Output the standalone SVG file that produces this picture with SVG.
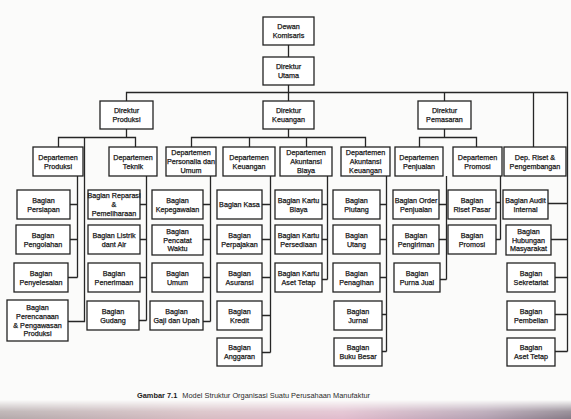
<svg xmlns="http://www.w3.org/2000/svg" width="571" height="419" viewBox="0 0 571 419">
  <defs>
    <style>
      .box { fill: #ffffff; stroke: #222222; stroke-width: 1.3; }
      .lbl { font-family: "Liberation Sans", Arial, sans-serif; font-size: 7.2px; text-anchor: middle; fill: #181818; stroke: #181818; stroke-width: 0.25; }
      .wire { fill: none; stroke: #262626; stroke-width: 1.3; }
      .cap { font-family: "Liberation Sans", Arial, sans-serif; font-size: 7.4px; fill: #2a2a2a; }
    </style>
    <linearGradient id="bandColor" x1="0" y1="0" x2="1" y2="0">
      <stop offset="0" stop-color="#b3a9aa"/>
      <stop offset="0.35" stop-color="#d6bcc2"/>
      <stop offset="0.6" stop-color="#e0bccd"/>
      <stop offset="0.85" stop-color="#b29fb0"/>
      <stop offset="1" stop-color="#857a86"/>
    </linearGradient>
    <linearGradient id="bandFade" x1="0" y1="0" x2="0" y2="1">
      <stop offset="0" stop-color="#000"/>
      <stop offset="0.6" stop-color="#ccc"/>
      <stop offset="1" stop-color="#fff"/>
    </linearGradient>
    <mask id="bandMask">
      <rect x="0" y="400" width="571" height="19" fill="url(#bandFade)"/>
    </mask>
  </defs>

  <!-- page -->
  <rect x="0" y="0" width="571" height="419" fill="#fbfbfa"/>
  <rect x="0" y="400" width="571" height="19" fill="url(#bandColor)" mask="url(#bandMask)"/>

  <!-- connectors -->
  <g id="connectors" class="wire">
    <!-- board / president -->
    <path d="M288.5 45 V57 M288.5 85 V101"/>
    <path d="M126.5 101 V92.5 H567.5 V351.5"/>
    <path d="M444.5 92.5 V101 M533.5 92.5 V147"/>
    <!-- production director -->
    <path d="M126.5 129 V137.5 M58.5 147 V137.5 H135.5 V147"/>
    <path d="M84.5 137.5 V321.5 H68"/>
    <!-- finance director -->
    <path d="M288.5 129 V137.5 M191.5 147 V137.5 H365.5 V147 M249.5 137.5 V147 M306.5 137.5 V147"/>
    <!-- marketing director -->
    <path d="M444.5 129 V137.5 M419.5 147 V137.5 H476.5 V147"/>
    <!-- production dept -->
    <path d="M77.5 176 V277.5 M70 204.5 H77.5 M70 239.5 H77.5 M68 277.5 H77.5"/>
    <!-- engineering dept -->
    <path d="M146.5 176 V320.5 M140 204.5 H146.5 M140 239.5 H146.5 M140 277.5 H146.5 M139 320.5 H146.5"/>
    <!-- personnel dept -->
    <path d="M210.5 176 V321.5 M203 204.5 H210.5 M203 239.5 H210.5 M203 277.5 H210.5 M203 321.5 H210.5"/>
    <!-- finance dept -->
    <path d="M270.5 176 V352.5 M262 204.5 H270.5 M262 239.5 H270.5 M262 277.5 H270.5 M262 315.5 H270.5 M262 352.5 H270.5"/>
    <!-- cost accounting dept -->
    <path d="M327.5 176 V279.5 M322 204.5 H327.5 M322 239.5 H327.5 M322 279.5 H327.5"/>
    <!-- financial accounting dept -->
    <path d="M386.5 176 V351.5 M380 204.5 H386.5 M380 239.5 H386.5 M380 277.5 H386.5 M382 314.5 H386.5 M382 351.5 H386.5"/>
    <!-- sales dept -->
    <path d="M446.5 176 V279.5 M439 204.5 H446.5 M439 239.5 H446.5 M440 279.5 H446.5"/>
    <!-- promotion dept -->
    <path d="M500.5 176 V239.5 M496 202.5 H500.5 M496 239.5 H500.5"/>
    <!-- staff units on the right -->
    <path d="M548 203.5 H567.5 M551 239.5 H567.5 M555 277.5 H567.5 M555 314.5 H567.5 M555 351.5 H567.5"/>
  </g>

  <!-- top level -->
  <g id="dewan-komisaris"><rect class="box" x="263" y="17" width="51" height="28"/><text class="lbl" x="288.5" y="29.2">Dewan<tspan x="288.5" dy="8.8">Komisaris</tspan></text></g>
  <g id="direktur-utama"><rect class="box" x="263" y="57" width="51" height="28"/><text class="lbl" x="288.5" y="69.2">Direktur<tspan x="288.5" dy="8.8">Utama</tspan></text></g>
  <g id="direktur-produksi"><rect class="box" x="100" y="101" width="53" height="28"/><text class="lbl" x="126.5" y="113.2">Direktur<tspan x="126.5" dy="8.8">Produksi</tspan></text></g>
  <g id="direktur-keuangan"><rect class="box" x="263" y="101" width="51" height="28"/><text class="lbl" x="288.5" y="113.2">Direktur<tspan x="288.5" dy="8.8">Keuangan</tspan></text></g>
  <g id="direktur-pemasaran"><rect class="box" x="418" y="101" width="53" height="28"/><text class="lbl" x="444.5" y="113.2">Direktur<tspan x="444.5" dy="8.8">Pemasaran</tspan></text></g>

  <!-- departments -->
  <g id="dep-produksi"><rect class="box" x="33" y="147" width="50" height="29"/><text class="lbl" x="58" y="159.7">Departemen<tspan x="58" dy="8.8">Produksi</tspan></text></g>
  <g id="dep-teknik"><rect class="box" x="109" y="147" width="48" height="29"/><text class="lbl" x="133" y="159.7">Departemen<tspan x="133" dy="8.8">Teknik</tspan></text></g>
  <g id="dep-personalia"><rect class="box" x="166" y="147" width="50" height="29"/><text class="lbl" x="191" y="155.3">Departemen<tspan x="191" dy="8.8">Personalia dan</tspan><tspan x="191" dy="8.8">Umum</tspan></text></g>
  <g id="dep-keuangan"><rect class="box" x="223" y="147" width="52" height="29"/><text class="lbl" x="249" y="159.7">Departemen<tspan x="249" dy="8.8">Keuangan</tspan></text></g>
  <g id="dep-akuntansi-biaya"><rect class="box" x="280" y="147" width="52" height="29"/><text class="lbl" x="306" y="155.3">Departemen<tspan x="306" dy="8.8">Akuntansi</tspan><tspan x="306" dy="8.8">Biaya</tspan></text></g>
  <g id="dep-akuntansi-keuangan"><rect class="box" x="341" y="147" width="49" height="29"/><text class="lbl" x="365.5" y="155.3">Departemen<tspan x="365.5" dy="8.8">Akuntansi</tspan><tspan x="365.5" dy="8.8">Keuangan</tspan></text></g>
  <g id="dep-penjualan"><rect class="box" x="395" y="147" width="48" height="29"/><text class="lbl" x="419" y="159.7">Departemen<tspan x="419" dy="8.8">Penjualan</tspan></text></g>
  <g id="dep-promosi"><rect class="box" x="453" y="147" width="49" height="29"/><text class="lbl" x="477.5" y="159.7">Departemen<tspan x="477.5" dy="8.8">Promosi</tspan></text></g>
  <g id="dep-riset"><rect class="box" x="504" y="147" width="62" height="29"/><text class="lbl" x="535" y="159.7">Dep. Riset &amp;<tspan x="535" dy="8.8">Pengembangan</tspan></text></g>

  <!-- production units -->
  <g id="bagian-persiapan"><rect class="box" x="17" y="190" width="53" height="29"/><text class="lbl" x="43.5" y="202.7">Bagian<tspan x="43.5" dy="8.8">Persiapan</tspan></text></g>
  <g id="bagian-pengolahan"><rect class="box" x="16" y="225" width="54" height="29"/><text class="lbl" x="43" y="237.7">Bagian<tspan x="43" dy="8.8">Pengolahan</tspan></text></g>
  <g id="bagian-penyelesaian"><rect class="box" x="14" y="263" width="54" height="29"/><text class="lbl" x="41" y="275.7">Bagian<tspan x="41" dy="8.8">Penyelesaian</tspan></text></g>
  <g id="bagian-perencanaan"><rect class="box" x="7" y="300" width="61" height="41"/><text class="lbl" x="37.5" y="309.9">Bagian<tspan x="37.5" dy="8.8">Perencanaan</tspan><tspan x="37.5" dy="8.8">&amp; Pengawasan</tspan><tspan x="37.5" dy="8.8">Produksi</tspan></text></g>

  <!-- engineering units -->
  <g id="bagian-reparasi"><rect class="box" x="88" y="190" width="52" height="29"/><text class="lbl" x="114" y="198.3">Bagian Reparasi<tspan x="114" dy="8.8">&amp;</tspan><tspan x="114" dy="8.8">Pemeliharaan</tspan></text></g>
  <g id="bagian-listrik"><rect class="box" x="88" y="225" width="52" height="29"/><text class="lbl" x="114" y="237.7">Bagian Listrik<tspan x="114" dy="8.8">dant Air</tspan></text></g>
  <g id="bagian-penerimaan"><rect class="box" x="88" y="263" width="52" height="29"/><text class="lbl" x="114" y="275.7">Bagian<tspan x="114" dy="8.8">Penerimaan</tspan></text></g>
  <g id="bagian-gudang"><rect class="box" x="87" y="301" width="52" height="29"/><text class="lbl" x="113" y="313.7">Bagian<tspan x="113" dy="8.8">Gudang</tspan></text></g>

  <!-- personnel units -->
  <g id="bagian-kepegawaian"><rect class="box" x="152" y="190" width="51" height="29"/><text class="lbl" x="177.5" y="202.7">Bagian<tspan x="177.5" dy="8.8">Kepegawaian</tspan></text></g>
  <g id="bagian-pencatat-waktu"><rect class="box" x="152" y="225" width="51" height="30"/><text class="lbl" x="177.5" y="233.8">Bagian<tspan x="177.5" dy="8.8">Pencatat</tspan><tspan x="177.5" dy="8.8">Waktu</tspan></text></g>
  <g id="bagian-umum"><rect class="box" x="152" y="263" width="51" height="29"/><text class="lbl" x="177.5" y="275.7">Bagian<tspan x="177.5" dy="8.8">Umum</tspan></text></g>
  <g id="bagian-gaji"><rect class="box" x="150" y="301" width="53" height="29"/><text class="lbl" x="176.5" y="313.7">Bagian<tspan x="176.5" dy="8.8">Gaji dan Upah</tspan></text></g>

  <!-- finance units -->
  <g id="bagian-kasa"><rect class="box" x="217" y="190" width="45" height="29"/><text class="lbl" x="239.5" y="207.1">Bagian Kasa</text></g>
  <g id="bagian-perpajakan"><rect class="box" x="217" y="225" width="45" height="29"/><text class="lbl" x="239.5" y="237.7">Bagian<tspan x="239.5" dy="8.8">Perpajakan</tspan></text></g>
  <g id="bagian-asuransi"><rect class="box" x="217" y="263" width="45" height="29"/><text class="lbl" x="239.5" y="275.7">Bagian<tspan x="239.5" dy="8.8">Asuransi</tspan></text></g>
  <g id="bagian-kredit"><rect class="box" x="217" y="301" width="45" height="29"/><text class="lbl" x="239.5" y="313.7">Bagian<tspan x="239.5" dy="8.8">Kredit</tspan></text></g>
  <g id="bagian-anggaran"><rect class="box" x="217" y="338" width="45" height="28"/><text class="lbl" x="239.5" y="350.2">Bagian<tspan x="239.5" dy="8.8">Anggaran</tspan></text></g>

  <!-- cost accounting units -->
  <g id="bagian-kartu-biaya"><rect class="box" x="275" y="190" width="47" height="29"/><text class="lbl" x="298.5" y="202.7">Bagian Kartu<tspan x="298.5" dy="8.8">Biaya</tspan></text></g>
  <g id="bagian-kartu-persediaan"><rect class="box" x="275" y="225" width="47" height="29"/><text class="lbl" x="298.5" y="237.7">Bagian Kartu<tspan x="298.5" dy="8.8">Persediaan</tspan></text></g>
  <g id="bagian-kartu-aset"><rect class="box" x="275" y="263" width="47" height="29"/><text class="lbl" x="298.5" y="275.7">Bagian Kartu<tspan x="298.5" dy="8.8">Aset Tetap</tspan></text></g>

  <!-- financial accounting units -->
  <g id="bagian-piutang"><rect class="box" x="333" y="190" width="47" height="29"/><text class="lbl" x="356.5" y="202.7">Bagian<tspan x="356.5" dy="8.8">Piutang</tspan></text></g>
  <g id="bagian-utang"><rect class="box" x="333" y="225" width="47" height="29"/><text class="lbl" x="356.5" y="237.7">Bagian<tspan x="356.5" dy="8.8">Utang</tspan></text></g>
  <g id="bagian-penagihan"><rect class="box" x="333" y="263" width="47" height="29"/><text class="lbl" x="356.5" y="275.7">Bagian<tspan x="356.5" dy="8.8">Penagihan</tspan></text></g>
  <g id="bagian-jurnal"><rect class="box" x="334" y="301" width="48" height="29"/><text class="lbl" x="358" y="313.7">Bagian<tspan x="358" dy="8.8">Jurnal</tspan></text></g>
  <g id="bagian-buku-besar"><rect class="box" x="334" y="338" width="48" height="28"/><text class="lbl" x="358" y="350.2">Bagian<tspan x="358" dy="8.8">Buku Besar</tspan></text></g>

  <!-- sales units -->
  <g id="bagian-order"><rect class="box" x="393" y="190" width="46" height="29"/><text class="lbl" x="416" y="202.7">Bagian Order<tspan x="416" dy="8.8">Penjualan</tspan></text></g>
  <g id="bagian-pengiriman"><rect class="box" x="393" y="225" width="46" height="29"/><text class="lbl" x="416" y="237.7">Bagian<tspan x="416" dy="8.8">Pengiriman</tspan></text></g>
  <g id="bagian-purna-jual"><rect class="box" x="394" y="263" width="46" height="29"/><text class="lbl" x="417" y="275.7">Bagian<tspan x="417" dy="8.8">Purna Jual</tspan></text></g>

  <!-- promotion units -->
  <g id="bagian-riset-pasar"><rect class="box" x="448" y="190" width="48" height="29"/><text class="lbl" x="472" y="202.7">Bagian<tspan x="472" dy="8.8">Riset Pasar</tspan></text></g>
  <g id="bagian-promosi"><rect class="box" x="448" y="225" width="48" height="29"/><text class="lbl" x="472" y="237.7">Bagian<tspan x="472" dy="8.8">Promosi</tspan></text></g>

  <!-- staff units -->
  <g id="bagian-audit"><rect class="box" x="503" y="190" width="45" height="29"/><text class="lbl" x="525.5" y="202.7">Bagian Audit<tspan x="525.5" dy="8.8">Internal</tspan></text></g>
  <g id="bagian-humas"><rect class="box" x="506" y="225" width="45" height="30"/><text class="lbl" x="528.5" y="233.8">Bagian<tspan x="528.5" dy="8.8">Hubungan</tspan><tspan x="528.5" dy="8.8">Masyarakat</tspan></text></g>
  <g id="bagian-sekretariat"><rect class="box" x="507" y="263" width="48" height="29"/><text class="lbl" x="531" y="275.7">Bagian<tspan x="531" dy="8.8">Sekretariat</tspan></text></g>
  <g id="bagian-pembelian"><rect class="box" x="507" y="301" width="48" height="29"/><text class="lbl" x="531" y="313.7">Bagian<tspan x="531" dy="8.8">Pembelian</tspan></text></g>
  <g id="bagian-aset-tetap"><rect class="box" x="507" y="338" width="48" height="28"/><text class="lbl" x="531" y="350.2">Bagian<tspan x="531" dy="8.8">Aset Tetap</tspan></text></g>

  <!-- caption -->
  <text class="cap" x="137" y="398"><tspan font-weight="bold" fill="#1a1a1a">Gambar 7.1</tspan><tspan dx="5">Model Struktur Organisasi Suatu Perusahaan Manufaktur</tspan></text>
</svg>
